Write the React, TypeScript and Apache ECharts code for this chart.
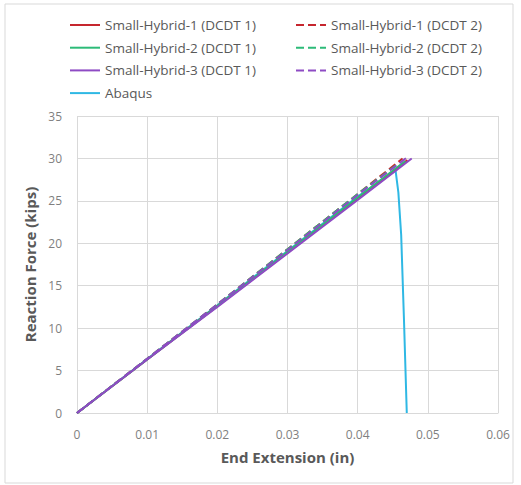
import React, { useEffect, useRef } from "react";
import * as echarts from "echarts";

const seriesNames = [
  "Small-Hybrid-1 (DCDT 1)",
  "Small-Hybrid-1 (DCDT 2)",
  "Small-Hybrid-2 (DCDT 1)",
  "Small-Hybrid-2 (DCDT 2)",
  "Small-Hybrid-3 (DCDT 1)",
  "Small-Hybrid-3 (DCDT 2)",
  "Abaqus",
];

const sh1d1: number[][] = [[0, 0], [0.01, 6.3], [0.02, 12.6], [0.03, 18.9], [0.04, 25.3], [0.0471, 29.8]];
const sh1d2: number[][] = [[0, 0], [0.01, 6.4], [0.02, 12.8], [0.03, 19.3], [0.04, 25.8], [0.0464, 30.0]];
const sh2d1: number[][] = [[0, 0], [0.01, 6.3], [0.02, 12.6], [0.03, 19.0], [0.04, 25.4], [0.0468, 29.7]];
const sh2d2: number[][] = [[0, 0], [0.01, 6.4], [0.02, 12.8], [0.03, 19.3], [0.04, 25.8], [0.0458, 29.4]];
const sh3d1: number[][] = [[0, 0], [0.01, 6.3], [0.02, 12.5], [0.03, 18.8], [0.04, 25.1], [0.0477, 30.0]];
const sh3d2: number[][] = [[0, 0], [0.01, 6.4], [0.02, 12.8], [0.03, 19.2], [0.04, 25.7], [0.0470, 30.1]];
const abaqus: number[][] = [[0, 0], [0.01, 6.35], [0.02, 12.7], [0.03, 19.1], [0.04, 25.5], [0.0454, 28.6], [0.0458, 26.0], [0.0462, 21.0], [0.0466, 11.0], [0.0470, 0]];

const seriesData = [sh1d1, sh1d2, sh2d1, sh2d2, sh3d1, sh3d2, abaqus];
const colors = ["#C6262E", "#C6262E", "#2DBB78", "#2DBB78", "#8E4BC4", "#8E4BC4", "#2FB8E4"];
const lineTypes = ["solid", "dashed", "solid", "dashed", "solid", "dashed", "solid"];

const xTicks = { min: 0, max: 0.06, interval: 0.01 };
const yTicks = { min: 0, max: 35, interval: 5 };

const FONT = "'Open Sans', 'Noto Sans', sans-serif";
const TEXT = "#595959";

export default function App() {
  const ref = useRef<HTMLDivElement>(null);
  useEffect(() => {
    if (!ref.current) return;
    const chart = echarts.init(ref.current, undefined, { renderer: "svg" });
    const legendText = { color: TEXT, fontSize: 13.5, fontFamily: FONT, lineHeight: 14 };
    const legendCommon = {
      orient: "vertical",
      top: 13,
      itemWidth: 30,
      itemHeight: 14,
      itemGap: 8.7,
      textStyle: legendText,
      itemStyle: { opacity: 0 },
      lineStyle: { width: 2, opacity: 1 },
    };
    chart.setOption({
      animation: false,
      backgroundColor: "#ffffff",
      graphic: [
        {
          type: "rect",
          shape: { x: 5, y: 4, width: 508, height: 479 },
          style: { fill: "none", stroke: "#D9D9D9", lineWidth: 1 },
          silent: true,
        },
      ],
      legend: [
        {
          ...legendCommon,
          left: 64,
          data: [seriesNames[0], seriesNames[2], seriesNames[4], seriesNames[6]],
        },
        {
          ...legendCommon,
          left: 290,
          data: [seriesNames[1], seriesNames[3], seriesNames[5]],
        },
      ],
      grid: { left: 77, right: 23, top: 116, bottom: 72, containLabel: false },
      xAxis: {
        type: "value",
        min: xTicks.min,
        max: xTicks.max,
        interval: xTicks.interval,
        name: "End Extension (in)",
        nameLocation: "middle",
        nameGap: 36,
        nameTextStyle: { color: TEXT, fontSize: 15, fontWeight: "bold", fontFamily: FONT },
        axisLine: { show: true, lineStyle: { color: "#D9D9D9" } },
        axisTick: { show: false },
        axisLabel: { color: "#7F7F7F", fontSize: 12, fontFamily: FONT, margin: 15 },
        splitLine: { show: true, lineStyle: { color: "#D9D9D9" } },
      },
      yAxis: {
        type: "value",
        min: yTicks.min,
        max: yTicks.max,
        interval: yTicks.interval,
        name: "Reaction Force (kips)",
        nameLocation: "middle",
        nameGap: 38,
        nameRotate: 90,
        nameTextStyle: { color: TEXT, fontSize: 15, fontWeight: "bold", fontFamily: FONT },
        axisLine: { show: false },
        axisTick: { show: false },
        axisLabel: { color: "#7F7F7F", fontSize: 12, fontFamily: FONT, margin: 15 },
        splitLine: { show: true, lineStyle: { color: "#D9D9D9" } },
      },
      series: seriesNames.map((name, i) => ({
        name,
        type: "line",
        data: seriesData[i],
        showSymbol: false,
        symbol: "none",
        color: colors[i],
        lineStyle: { color: colors[i], width: 2, type: lineTypes[i] },
        z: i === 6 ? 1 : 2,
      })),
    });
    return () => chart.dispose();
  }, []);
  return (
    <div
      ref={ref}
      style={{ position: "fixed", left: 0, top: 0, width: 521, height: 485 }}
    />
  );
}
